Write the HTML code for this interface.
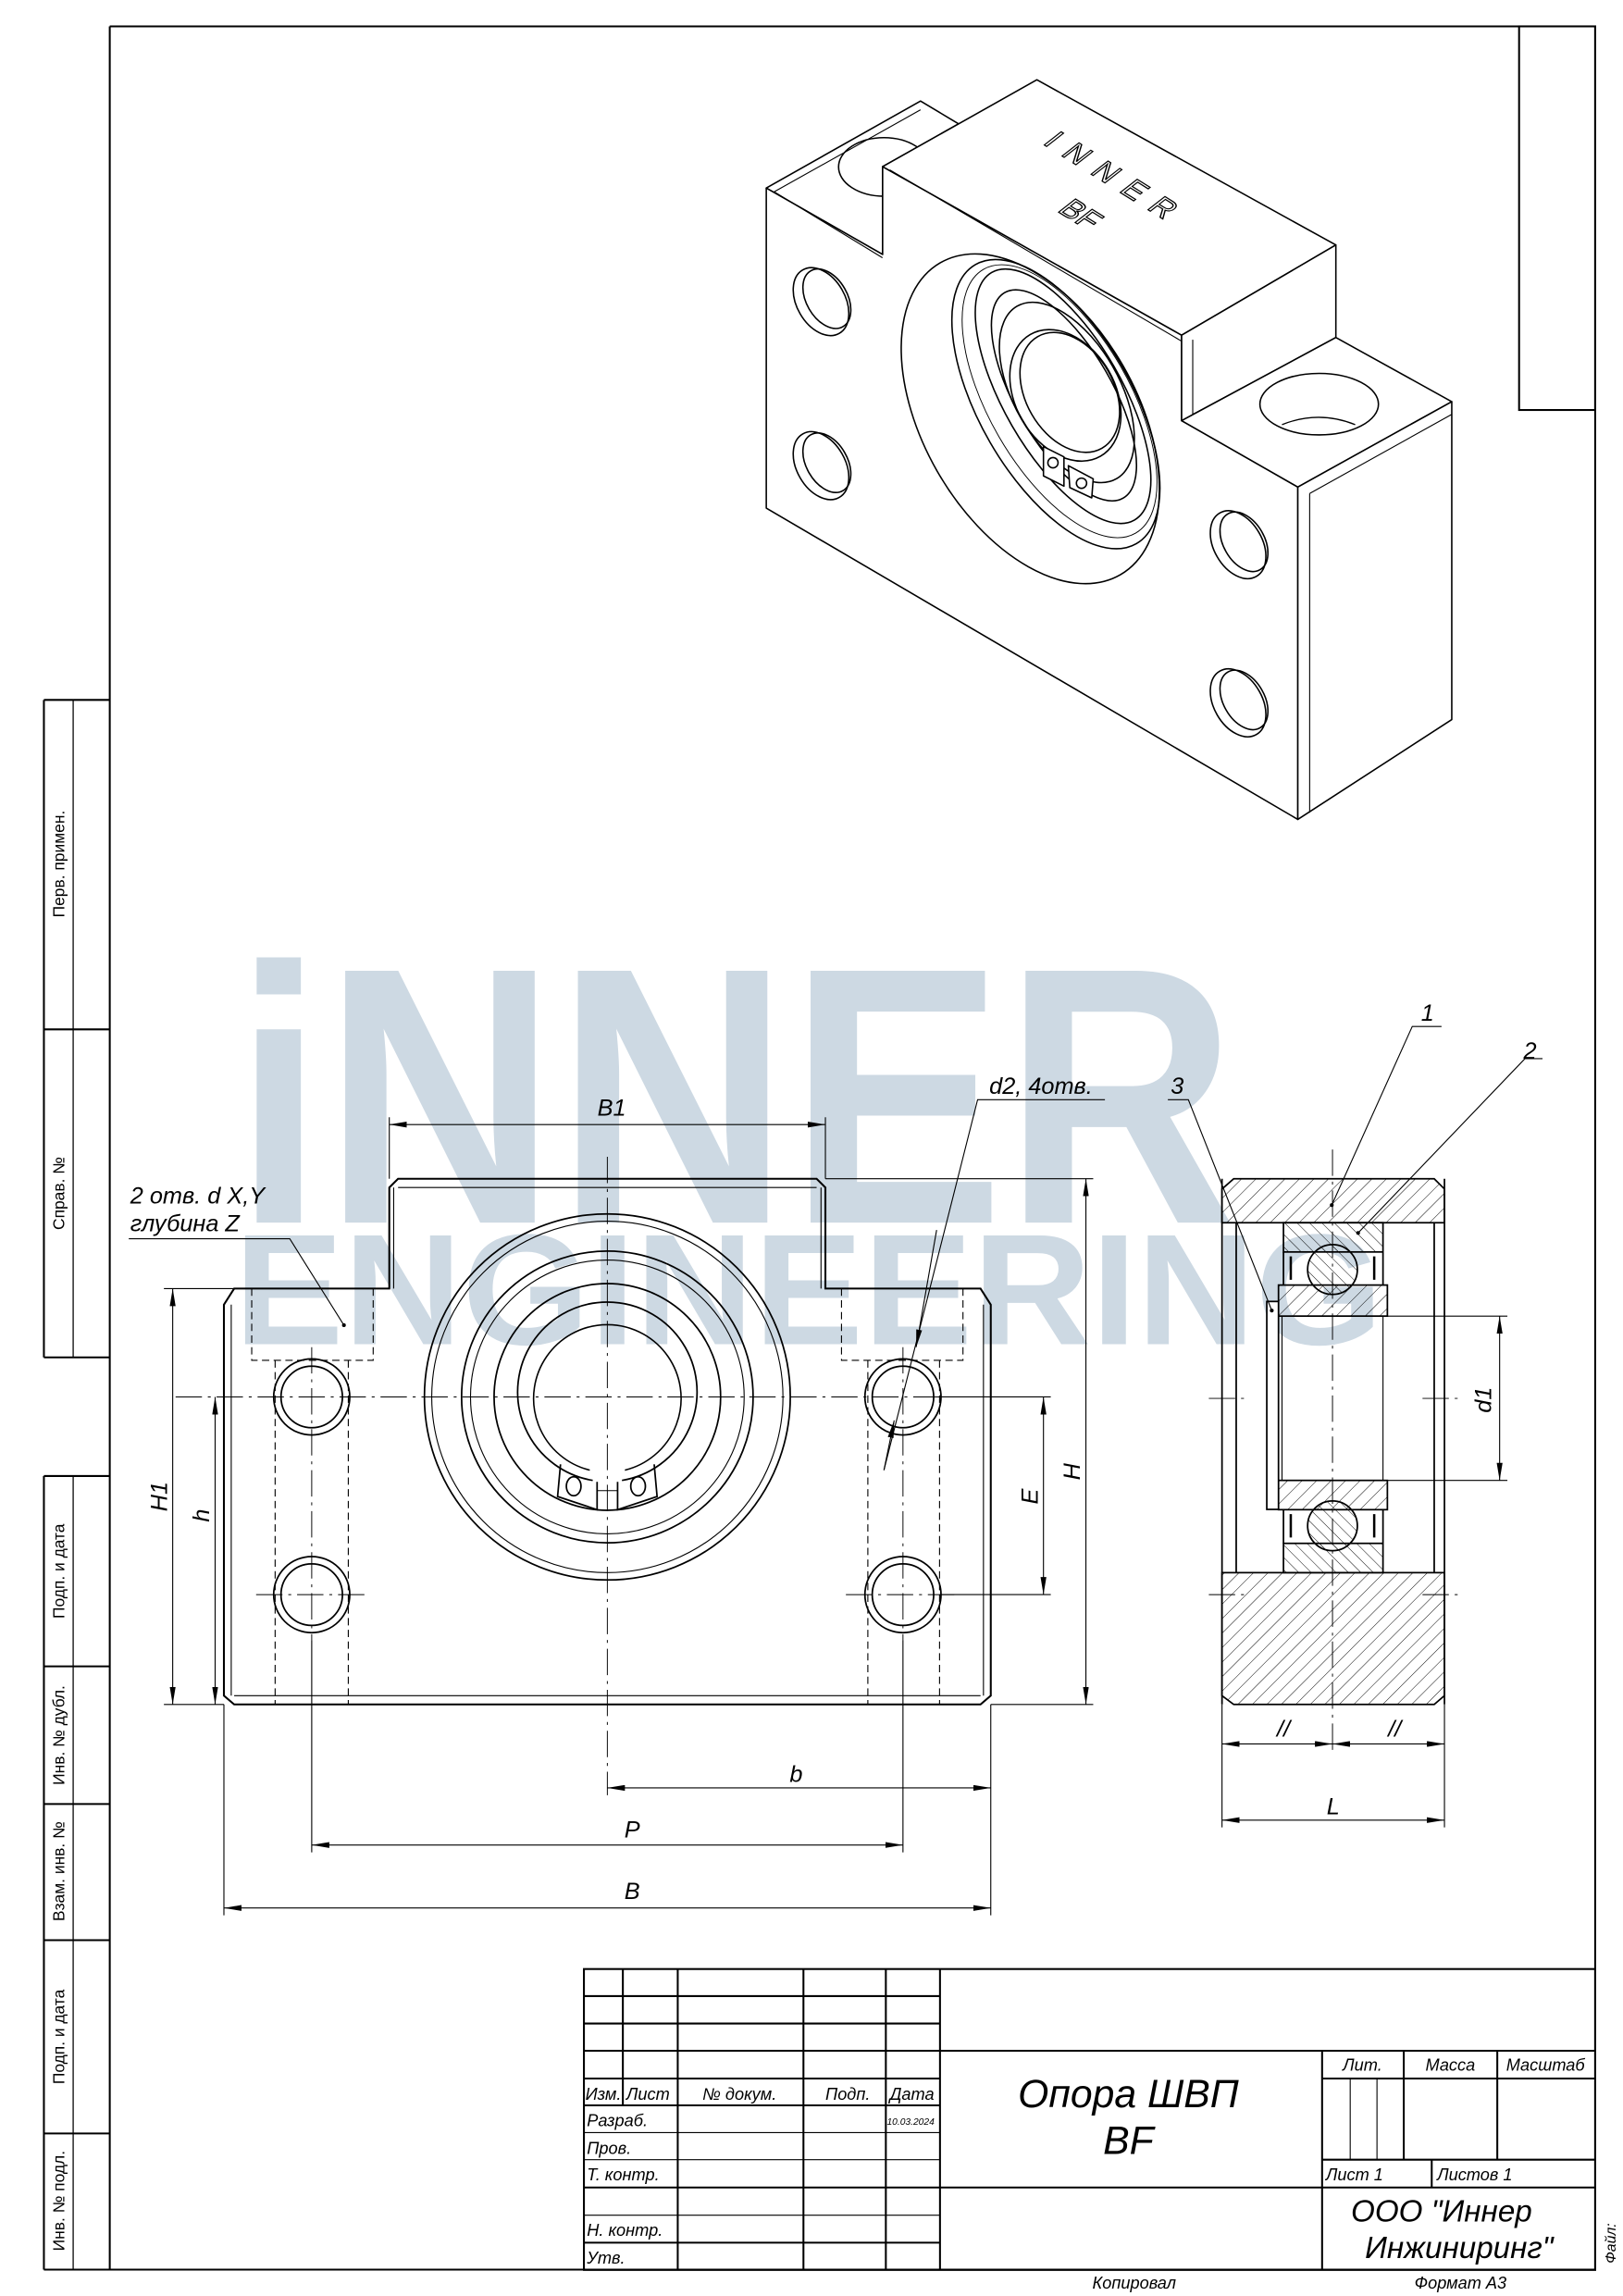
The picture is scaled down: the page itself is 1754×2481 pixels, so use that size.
<!DOCTYPE html>
<html><head><meta charset="utf-8"><style>
html,body{margin:0;padding:0;background:#fff}
svg{display:block}
text{font-family:"Liberation Sans","DejaVu Sans",sans-serif;fill:#000}
.it{font-style:italic}
</style></head><body>
<svg xmlns="http://www.w3.org/2000/svg" width="1754" height="2481" viewBox="0 0 1109 1568" preserveAspectRatio="none">
<defs>
<marker id="ar" viewBox="0 0 12 4" refX="12" refY="2" markerWidth="12" markerHeight="4" markerUnits="userSpaceOnUse" orient="auto-start-reverse"><path d="M0,0 L12,2 L0,4 z" fill="#000"/></marker>
<pattern id="h1" patternUnits="userSpaceOnUse" width="7" height="7" patternTransform="rotate(45)"><line x1="0" y1="0" x2="0" y2="7" stroke="#000" stroke-width="0.6"/></pattern>
<pattern id="h2" patternUnits="userSpaceOnUse" width="6" height="6" patternTransform="rotate(-45)"><line x1="0" y1="0" x2="0" y2="6" stroke="#000" stroke-width="0.6"/></pattern>
</defs>
<rect width="1109" height="1568" fill="#fff"/>

<!-- watermark -->
<g font-weight="bold">
<text x="160" y="835" font-size="250" textLength="685" lengthAdjust="spacingAndGlyphs" style="fill:#cdd9e3">iNNER</text>
<text x="160" y="918" font-size="108" textLength="785" lengthAdjust="spacingAndGlyphs" style="fill:#cdd9e3">ENGINEERING</text>
</g>

<!-- frame -->
<g fill="none" stroke="#000" stroke-width="1.3">
<polyline points="75,18 1090,18 1090,1550 30,1550"/>
<line x1="75" y1="18" x2="75" y2="1550"/>
<rect x="1038" y="18" width="52" height="262"/>
<line x1="30" y1="478" x2="30" y2="927"/>
<line x1="30" y1="1008" x2="30" y2="1550"/>
<line x1="50" y1="478" x2="50" y2="927" stroke-width="0.8"/>
<line x1="50" y1="1008" x2="50" y2="1550" stroke-width="0.8"/>
<g>
<line x1="30" y1="478" x2="75" y2="478"/><line x1="30" y1="703" x2="75" y2="703"/><line x1="30" y1="927" x2="75" y2="927"/>
<line x1="30" y1="1008" x2="75" y2="1008"/><line x1="30" y1="1138" x2="75" y2="1138"/><line x1="30" y1="1232" x2="75" y2="1232"/>
<line x1="30" y1="1325" x2="75" y2="1325"/><line x1="30" y1="1457" x2="75" y2="1457"/>
</g>
</g>
<g font-size="11">
<text transform="translate(44,590) rotate(-90)" text-anchor="middle">Перв. примен.</text>
<text transform="translate(44,815) rotate(-90)" text-anchor="middle">Справ. №</text>
<text transform="translate(44,1073) rotate(-90)" text-anchor="middle">Подп. и дата</text>
<text transform="translate(44,1185) rotate(-90)" text-anchor="middle">Инв. № дубл.</text>
<text transform="translate(44,1278) rotate(-90)" text-anchor="middle">Взам. инв. №</text>
<text transform="translate(44,1391) rotate(-90)" text-anchor="middle">Подп. и дата</text>
<text transform="translate(44,1503) rotate(-90)" text-anchor="middle">Инв. № подл.</text>
</g>

<!-- ISOMETRIC -->
<g stroke="#000" stroke-width="1" fill="#fff" stroke-linejoin="round">
<!-- left block top face -->
<polygon points="523.6,128.4 629,69 655,84.6 603.1,113.8 603.1,173.8"/>
<ellipse cx="604" cy="114" rx="31" ry="20" fill="none"/>
<!-- front face whole -->
<polygon points="523.6,128.4 603.1,173.8 603.1,113.8 807.4,228.9 807.4,287.3 886.8,332.6 886.8,559.6 523.6,347"/>
<!-- main top face -->
<polygon points="603.1,113.8 708.5,54.5 912.8,167.3 807.4,228.9"/>
<line x1="608" y1="116" x2="807.4" y2="233" fill="none" stroke-width="0.7"/>
<!-- main right face -->
<polygon points="807.4,228.9 912.8,167.3 912.8,230.5 807.4,287.3"/>
<line x1="815" y1="232" x2="815" y2="283" stroke-width="0.7" fill="none"/>
<!-- right block top -->
<polygon points="807.4,287.3 912.8,230.5 992,274.3 886.8,332.6"/>
<line x1="815" y1="283" x2="912.8" y2="230.5" stroke-width="0.7" fill="none"/>
<ellipse cx="901.4" cy="276" rx="40.5" ry="21" fill="none"/>
<path d="M876,290 Q901,280 926,290" fill="none" stroke-width="0.8"/>
<!-- right block side -->
<polygon points="886.8,332.6 992,274.3 992,491.4 886.8,559.6"/>
<line x1="894.9" y1="337" x2="894.9" y2="555" stroke-width="0.7" fill="none"/>
<line x1="894.9" y1="337" x2="992" y2="283" stroke-width="0.7" fill="none"/>
<line x1="529" y1="131" x2="603" y2="176" stroke-width="0.7" fill="none"/>
<line x1="529" y1="131" x2="629" y2="75" stroke-width="0.7" fill="none"/>
<!-- holes on front face -->
<g fill="none">
<ellipse cx="561" cy="206" rx="25" ry="16.5" transform="rotate(60 561 206)"/>
<ellipse cx="565" cy="204" rx="22" ry="14" transform="rotate(60 565 204)"/>
<ellipse cx="561" cy="318" rx="25" ry="16.5" transform="rotate(60 561 318)"/>
<ellipse cx="565" cy="316" rx="22" ry="14" transform="rotate(60 565 316)"/>
<ellipse cx="846" cy="372" rx="25" ry="16.5" transform="rotate(60 846 372)"/>
<ellipse cx="850" cy="370" rx="22" ry="14" transform="rotate(60 850 370)"/>
<ellipse cx="846" cy="480" rx="25" ry="16.5" transform="rotate(60 846 480)"/>
<ellipse cx="850" cy="478" rx="22" ry="14" transform="rotate(60 850 478)"/>
<!-- flange -->
<ellipse cx="704" cy="286" rx="123" ry="73" transform="rotate(60 704 286)"/>
<ellipse cx="721.5" cy="276" rx="110" ry="52" transform="rotate(60 721.5 276)"/>
<ellipse cx="724" cy="274" rx="104" ry="48" transform="rotate(60 724 274)" stroke-width="0.6"/>
<ellipse cx="726.4" cy="270.6" rx="97.6" ry="40.3" transform="rotate(60 726.4 270.6)"/>
<ellipse cx="727" cy="270" rx="81" ry="33" transform="rotate(60 727 270)"/>
<ellipse cx="729" cy="268" rx="68" ry="36" transform="rotate(60 729 268)"/>
<ellipse cx="728" cy="270" rx="48" ry="34" transform="rotate(60 728 270)"/>
<ellipse cx="731" cy="268" rx="44" ry="30" transform="rotate(60 731 268)"/>
</g>
<polygon points="713,305 727,312 727,332 713,325" fill="#fff"/>
<polygon points="730,318 747,327 746,340 731,333" fill="#fff"/>
<circle cx="719.5" cy="316" r="3.5" fill="none"/>
<circle cx="739" cy="330" r="3.5" fill="none"/>
</g>
<g font-size="20" fill="none" stroke="#000" stroke-width="0.8">
<text transform="translate(712,98) rotate(32) skewX(-20)" letter-spacing="9" style="fill:none">INNER</text>
<text transform="translate(722,144) rotate(32) skewX(-20)" style="fill:none">BF</text>
</g>

<!-- FRONT VIEW -->
<g fill="none" stroke="#000" stroke-width="1.3">
<path d="M153,891 L160,880 L266,880 L266,811 L272,805 L558,805 L564,811 L564,880 L670,880 L677,891 L677,1158 L670,1164 L160,1164 L153,1158 Z"/>
</g>
<g fill="none" stroke="#000" stroke-width="0.7">
<line x1="158" y1="891" x2="158" y2="1158"/><line x1="672" y1="891" x2="672" y2="1158"/>
<line x1="160" y1="1158" x2="670" y2="1158"/>
<line x1="269" y1="811" x2="269" y2="880"/><line x1="561" y1="811" x2="561" y2="880"/>
<line x1="272" y1="811" x2="558" y2="811"/>
<g stroke-dasharray="5,3">
<polyline points="172,880 172,929 255,929 255,880"/>
<polyline points="575,880 575,929 658,929 658,880"/>
<line x1="188" y1="929" x2="188" y2="1164"/><line x1="238" y1="929" x2="238" y2="1164"/>
<line x1="593" y1="929" x2="593" y2="1164"/><line x1="642" y1="929" x2="642" y2="1164"/>
</g>
</g>
<g fill="none" stroke="#000" stroke-width="1.1">
<circle cx="213" cy="954" r="26"/><circle cx="213" cy="954" r="21"/>
<circle cx="213" cy="1089" r="26"/><circle cx="213" cy="1089" r="21"/>
<circle cx="617" cy="954" r="26"/><circle cx="617" cy="954" r="21"/>
<circle cx="617" cy="1089" r="26"/><circle cx="617" cy="1089" r="21"/>
<circle cx="415" cy="954" r="125"/><circle cx="415" cy="954" r="120" stroke-width="0.7"/>
<circle cx="415" cy="954" r="99.6"/><circle cx="415" cy="954" r="93.5" stroke-width="0.7"/>
<circle cx="415" cy="954" r="77.4"/>
<path d="M405,1011 A61.3,61.3 0 1,1 425,1011"/>
<path d="M403,1004 A50.4,50.4 0 1,1 427,1004" stroke-width="1"/>
<path d="M383,1000 L381,1022 L408,1031 L408,1012" />
<path d="M447,1000 L449,1022 L422,1031 L422,1012" />
<line x1="408" y1="1018" x2="422" y2="1018" stroke-width="0.7"/>
<ellipse cx="392" cy="1015" rx="5" ry="6.5"/><ellipse cx="436" cy="1015" rx="5" ry="6.5"/>
</g>
<!-- center lines -->
<g fill="none" stroke="#000" stroke-width="0.6" stroke-dasharray="18,4,2,4">
<line x1="120" y1="954" x2="712" y2="954"/>
<line x1="175" y1="1089" x2="252" y2="1089"/><line x1="578" y1="1089" x2="656" y2="1089"/>
<line x1="415" y1="790" x2="415" y2="1226"/>
<line x1="213" y1="920" x2="213" y2="1120"/><line x1="617" y1="920" x2="617" y2="1120"/>
</g>
<!-- dims front -->
<g fill="none" stroke="#000" stroke-width="0.7">
<line x1="213" y1="1120" x2="213" y2="1265"/><line x1="617" y1="1120" x2="617" y2="1265"/>
<line x1="153" y1="1164" x2="153" y2="1308"/><line x1="677" y1="1164" x2="677" y2="1308"/>
<line x1="112" y1="880" x2="160" y2="880"/><line x1="112" y1="1164" x2="153" y2="1164"/>
<line x1="642" y1="1089" x2="718" y2="1089"/><line x1="642" y1="954" x2="718" y2="954"/>
<line x1="564" y1="805" x2="747" y2="805"/><line x1="677" y1="1164" x2="747" y2="1164"/>
<line x1="266" y1="805" x2="266" y2="763"/><line x1="564" y1="805" x2="564" y2="763"/>
<g marker-start="url(#ar)" marker-end="url(#ar)">
<line x1="118" y1="880" x2="118" y2="1164"/>
<line x1="147" y1="954" x2="147" y2="1164"/>
<line x1="713" y1="954" x2="713" y2="1089"/>
<line x1="742" y1="805" x2="742" y2="1164"/>
<line x1="266" y1="768" x2="564" y2="768"/>
<line x1="415" y1="1221" x2="677" y2="1221"/>
<line x1="213" y1="1260" x2="617" y2="1260"/>
<line x1="153" y1="1303" x2="677" y2="1303"/>
</g>
<polyline points="88,846 198,846 235,905"/>
<polyline points="755,751 668,751 604,1004"/>
<line x1="640" y1="840" x2="626" y2="920" marker-end="url(#ar)"/>
<line x1="604" y1="1004" x2="611" y2="970" marker-end="url(#ar)"/>
</g>
<g class="it" font-size="16">
<text x="418" y="762" text-anchor="middle" class="it">B1</text>
<text transform="translate(114,1022) rotate(-90)" text-anchor="middle" class="it">H1</text>
<text transform="translate(143,1035) rotate(-90)" text-anchor="middle" class="it">h</text>
<text transform="translate(709,1022) rotate(-90)" text-anchor="middle" class="it">E</text>
<text transform="translate(738,1005) rotate(-90)" text-anchor="middle" class="it">H</text>
<text x="544" y="1217" text-anchor="middle" class="it">b</text>
<text x="432" y="1255" text-anchor="middle" class="it">P</text>
<text x="432" y="1297" text-anchor="middle" class="it">B</text>
<text x="89" y="822" class="it">2 отв. d X,Y</text>
<text x="89" y="841" class="it">глубина Z</text>
<text x="676" y="747" class="it">d2, 4отв.</text>
<text x="800" y="747" class="it">3</text>
<text x="971" y="697" class="it">1</text>
<text x="1041" y="723" class="it">2</text>
<text transform="translate(1019,956) rotate(-90)" text-anchor="middle" class="it">d1</text>
<text x="877" y="1186" text-anchor="middle" class="it">//</text>
<text x="953" y="1186" text-anchor="middle" class="it">//</text>
<text x="911" y="1239" text-anchor="middle" class="it">L</text>
</g>

<!-- SIDE VIEW -->
<g stroke="#000" stroke-width="1.1">
<path d="M843,805 L980,805 L987,812 L987,835 L835,835 L835,812 Z" fill="url(#h1)"/>
<path d="M835,1074 L987,1074 L987,1158 L980,1164 L843,1164 L835,1158 Z" fill="url(#h1)"/>
<rect x="877" y="835" width="68" height="20" fill="url(#h2)"/>
<rect x="877" y="1054" width="68" height="20" fill="url(#h2)"/>
<rect x="873.6" y="877.6" width="74.4" height="21.2" fill="url(#h1)"/>
<rect x="873.6" y="1011" width="74.4" height="20" fill="url(#h1)"/>
<circle cx="910.5" cy="867" r="17" fill="url(#h2)"/>
<circle cx="910.5" cy="1042" r="17" fill="url(#h2)"/>
<rect x="865.6" y="888.8" width="8" height="142" fill="#fff"/>
</g>
<g fill="none" stroke="#000" stroke-width="1.1">
<line x1="835" y1="805" x2="835" y2="1164"/><line x1="987" y1="805" x2="987" y2="1164"/>
<line x1="844.7" y1="835" x2="844.7" y2="1074"/><line x1="980" y1="835" x2="980" y2="1074"/>
<line x1="877" y1="855" x2="877" y2="877.6"/><line x1="945" y1="855" x2="945" y2="877.6"/>
<line x1="877" y1="1031" x2="877" y2="1054"/><line x1="945" y1="1031" x2="945" y2="1054"/>
<line x1="876" y1="898.8" x2="876" y2="1011" stroke-width="0.7"/><line x1="945" y1="898.8" x2="945" y2="1011" stroke-width="0.7"/>
<path d="M882,858 v16 M939,858 v16 M882,1034 v16 M939,1034 v16" stroke-width="1.6"/>
</g>
<g fill="none" stroke="#000" stroke-width="0.6" stroke-dasharray="18,4,2,4">
<line x1="910.5" y1="785" x2="910.5" y2="1195"/>
<line x1="826" y1="955" x2="850" y2="955"/><line x1="972" y1="955" x2="996" y2="955"/>
<line x1="826" y1="1089" x2="850" y2="1089"/><line x1="972" y1="1089" x2="996" y2="1089"/>
</g>
<g fill="none" stroke="#000" stroke-width="0.7">
<line x1="948" y1="898.8" x2="1030" y2="898.8"/><line x1="948" y1="1011" x2="1030" y2="1011"/>
<line x1="835" y1="1164" x2="835" y2="1248"/><line x1="987" y1="1164" x2="987" y2="1248"/>
<g marker-start="url(#ar)" marker-end="url(#ar)">
<line x1="1024.7" y1="898.8" x2="1024.7" y2="1011"/>
<line x1="835" y1="1191" x2="910.5" y2="1191"/>
<line x1="910.5" y1="1191" x2="987" y2="1191"/>
<line x1="835" y1="1243" x2="987" y2="1243"/>
</g>
<polyline points="985,701 965,701 910,823"/>
<polyline points="1054,723 1042,723 928,842"/>
<polyline points="798,751 812,751 869,895"/>
</g>
<circle cx="910" cy="823" r="1.3"/><circle cx="928" cy="842" r="1.3"/><circle cx="869" cy="895" r="1.3"/><circle cx="235" cy="905" r="1.3"/>

<!-- TITLE BLOCK -->
<g fill="none" stroke="#000" stroke-width="1.3">
<rect x="399" y="1344.7" width="691" height="205.5"/>
<line x1="425.6" y1="1344.7" x2="425.6" y2="1437.8"/>
<line x1="463.1" y1="1344.7" x2="463.1" y2="1550"/>
<line x1="549" y1="1344.7" x2="549" y2="1550"/>
<line x1="605.3" y1="1344.7" x2="605.3" y2="1550"/>
<line x1="642.3" y1="1344.7" x2="642.3" y2="1550"/>
<line x1="399" y1="1363.2" x2="642.3" y2="1363.2"/>
<line x1="399" y1="1381.9" x2="642.3" y2="1381.9"/>
<line x1="399" y1="1400.5" x2="1090" y2="1400.5"/>
<line x1="399" y1="1419.5" x2="642.3" y2="1419.5"/>
<line x1="399" y1="1437.8" x2="642.3" y2="1437.8"/>
<line x1="399" y1="1493.9" x2="1090" y2="1493.9"/>
<line x1="399" y1="1531.6" x2="642.3" y2="1531.6"/>
<line x1="903.4" y1="1400.5" x2="903.4" y2="1550"/>
<line x1="903.4" y1="1419.5" x2="1090" y2="1419.5"/>
<line x1="903.4" y1="1474.9" x2="1090" y2="1474.9"/>
<line x1="959.2" y1="1400.5" x2="959.2" y2="1474.9"/>
<line x1="1023.1" y1="1400.5" x2="1023.1" y2="1474.9"/>
<line x1="978.3" y1="1474.9" x2="978.3" y2="1493.9"/>
</g>
<g fill="none" stroke="#000" stroke-width="0.7">
<line x1="399" y1="1456.4" x2="642.3" y2="1456.4"/>
<line x1="399" y1="1474.9" x2="642.3" y2="1474.9"/>
<line x1="399" y1="1512.8" x2="642.3" y2="1512.8"/>
<line x1="922.6" y1="1419.5" x2="922.6" y2="1474.9"/>
<line x1="940.9" y1="1419.5" x2="940.9" y2="1474.9"/>
</g>
<g font-size="11.5" font-style="italic">
<text x="400" y="1434">Изм.</text><text x="428" y="1434">Лист</text><text x="480" y="1434">№ докум.</text>
<text x="564" y="1434">Подп.</text><text x="608" y="1434">Дата</text>
<text x="401" y="1452">Разраб.</text><text x="606" y="1451" font-size="6.5">10.03.2024</text>
<text x="401" y="1471">Пров.</text><text x="401" y="1489">Т. контр.</text>
<text x="401" y="1527">Н. контр.</text><text x="401" y="1546">Утв.</text>
<text x="931" y="1414" text-anchor="middle">Лит.</text><text x="991" y="1414" text-anchor="middle">Масса</text><text x="1056" y="1414" text-anchor="middle">Масштаб</text>
<text x="906" y="1489">Лист 1</text><text x="982" y="1489">Листов 1</text>
<text x="775" y="1563" text-anchor="middle">Копировал</text><text x="998" y="1563" text-anchor="middle">Формат А3</text>
<text transform="translate(1104,1532) rotate(-90)" text-anchor="middle" font-size="10">Файл:</text>
</g>
<g font-style="italic" text-anchor="middle">
<text x="771" y="1439" font-size="27">Опора ШВП</text>
<text x="771" y="1471" font-size="27">BF</text>
<text x="985" y="1517" font-size="21">ООО "Иннер</text>
<text x="997" y="1542" font-size="21">Инжиниринг"</text>
</g>
</svg>
</body></html>
